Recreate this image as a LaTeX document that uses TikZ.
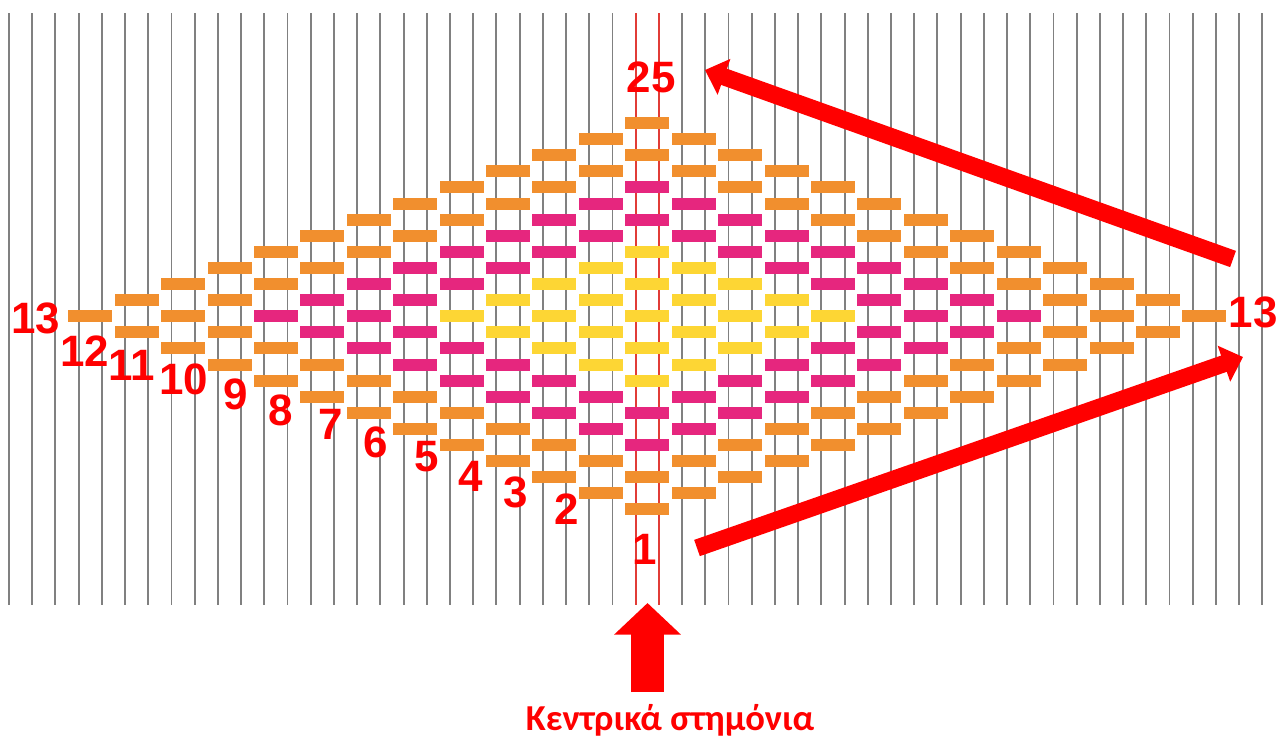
\documentclass[tikz,border=0pt]{standalone}
\usepackage{fontspec}
\usepackage{tikz}
\usetikzlibrary{arrows.meta}

\newfontfamily\numfont{Liberation Sans}
\newfontfamily\capfont{Carlito}

\definecolor{warpgray}{RGB}{128,128,128}
\definecolor{warpred}{RGB}{225,60,55}
\definecolor{borange}{RGB}{241,143,46}
\definecolor{bmagenta}{RGB}{230,38,126}
\definecolor{byellow}{RGB}{253,214,52}
\definecolor{markred}{RGB}{255,0,0}

\begin{document}
\begin{tikzpicture}[
  x=0.02cm, y=-0.02cm,
  warp/.style={warpgray, line width=1.1pt},
  cwarp/.style={warpred, line width=1.1pt},
  num/.style={text=markred, inner sep=0pt, font=\numfont\bfseries\fontsize{25}{25}\selectfont},
  captext/.style={text=markred, inner sep=0pt, font=\capfont\bfseries\fontsize{20.8}{22}\selectfont},
  bigarrow/.style={markred, line width=9.8pt, -{Triangle[length=11.5pt, width=21pt]}},
  uparrow/.style={markred, line width=18.7pt, -{Triangle[length=18pt, width=37pt]}}
]
\useasboundingbox (0,0) rectangle (1280,737);
\clip (0,0) rectangle (1280,737);

% warp threads
\foreach \w in {0,...,54}{
  \ifnum\w=27\relax\else\ifnum\w=28\relax\else
    \draw[warp] ({9+23.21*\w},13) -- ({9+23.21*\w},605);
  \fi\fi
}
\draw[cwarp] ({9+23.21*27},13) -- ({9+23.21*27},605);
\draw[cwarp] ({9+23.21*28},13) -- ({9+23.21*28},605);

% weft floats, diamond
\foreach \col in {-12,...,12}{
  \pgfmathtruncatemacro\acol{abs(\col)}
  \pgfmathtruncatemacro\nrow{12-\acol}
  \foreach \rr in {0,...,\nrow}{
    \pgfmathtruncatemacro\krow{\acol+2*\rr}
    \pgfmathtruncatemacro\dist{\acol+abs(\krow-12)}
    \ifnum\dist>9 \def\bcol{borange}\else\ifnum\dist>5 \def\bcol{bmagenta}\else\def\bcol{byellow}\fi\fi
    \fill[\bcol] ({647.3+46.42*\col-22},{123+16.1*\krow-6}) rectangle ++(44,12);
  }
}

% row numbers
\foreach \n/\px/\py in {13/36/318, 12/85/351, 11/132/365, 10/184/379, 9/236/394,
  8/281/410, 7/331/424, 6/376/442, 5/427/457, 4/471/476, 3/516/492, 2/567/509, 1/645/549}
  \node[num] (lab\n) at (\px,\py) {\n};
\node[num] (lab25) at (651,77) {25};
\node[num, anchor=east] (lab13r) at (1278,312) {13};

% arrows
\coordinate (up1s) at (697,548);
\coordinate (up1e) at (1243,357);
\coordinate (up2s) at (1233,259);
\coordinate (up2e) at (705,70);
\draw[bigarrow] (up1s) -- (up1e);
\draw[bigarrow] (up2s) -- (up2e);

\node[captext, anchor=base] (central) at (670,730) {Κεντρικά στημόνια};
\coordinate (cbase) at (647.5,692);
\coordinate (ctip) at (647.5,603);
\draw[uparrow] (cbase) -- (ctip);
\end{tikzpicture}
\end{document}
